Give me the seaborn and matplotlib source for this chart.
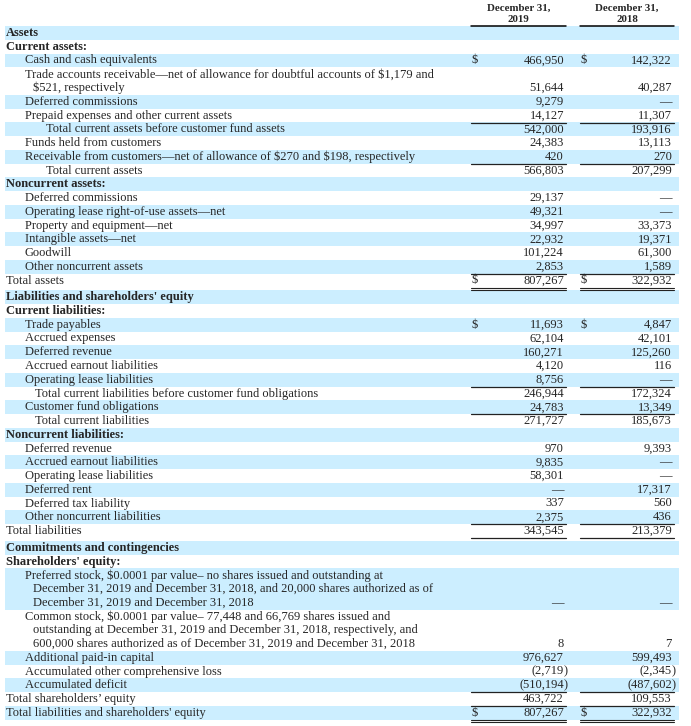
import matplotlib
matplotlib.use("Agg")
import matplotlib.pyplot as plt
from matplotlib.patches import Rectangle
import seaborn as sns

# balance sheet data (in thousands)
years = ["2019", "2018"]
header = "December 31,"

labels = [
    "Assets",
    "Current assets:",
    "Cash and cash equivalents",
    "Trade accounts receivable—net of allowance for doubtful accounts of $1,179 and\n$521, respectively",
    "Deferred commissions",
    "Prepaid expenses and other current assets",
    "Total current assets before customer fund assets",
    "Funds held from customers",
    "Receivable from customers—net of allowance of $270 and $198, respectively",
    "Total current assets",
    "Noncurrent assets:",
    "Deferred commissions",
    "Operating lease right-of-use assets—net",
    "Property and equipment—net",
    "Intangible assets—net",
    "Goodwill",
    "Other noncurrent assets",
    "Total assets",
    "Liabilities and shareholders' equity",
    "Current liabilities:",
    "Trade payables",
    "Accrued expenses",
    "Deferred revenue",
    "Accrued earnout liabilities",
    "Operating lease liabilities",
    "Total current liabilities before customer fund obligations",
    "Customer fund obligations",
    "Total current liabilities",
    "Noncurrent liabilities:",
    "Deferred revenue",
    "Accrued earnout liabilities",
    "Operating lease liabilities",
    "Deferred rent",
    "Deferred tax liability",
    "Other noncurrent liabilities",
    "Total liabilities",
    "Commitments and contingencies",
    "Shareholders' equity:",
    "Preferred stock, $0.0001 par value– no shares issued and outstanding at\n"
    "December 31, 2019 and December 31, 2018, and 20,000 shares authorized as of\n"
    "December 31, 2019 and December 31, 2018",
    "Common stock, $0.0001 par value– 77,448 and 66,769 shares issued and\n"
    "outstanding at December 31, 2019 and December 31, 2018, respectively, and\n"
    "600,000 shares authorized as of December 31, 2019 and December 31, 2018",
    "Additional paid-in capital",
    "Accumulated other comprehensive loss",
    "Accumulated deficit",
    "Total shareholders’ equity",
    "Total liabilities and shareholders' equity",
]

values_2019 = [
    None, None, 466950, 51644, 9279, 14127, 542000, 24383, 420, 566803,
    None, 29137, 49321, 34997, 22932, 101224, 2853, 807267,
    None, None, 11693, 62104, 160271, 4120, 8756, 246944, 24783, 271727,
    None, 970, 9835, 58301, 0, 337, 2375, 343545,
    None, None, 0, 8, 976627, -2719, -510194, 463722, 807267,
]

values_2018 = [
    None, None, 142322, 40287, 0, 11307, 193916, 13113, 270, 207299,
    None, 0, 0, 33373, 19371, 61300, 1589, 322932,
    None, None, 4847, 42101, 125260, 116, 0, 172324, 13349, 185673,
    None, 9393, 0, 0, 17317, 560, 436, 213379,
    None, None, 0, 7, 599493, -2345, -487602, 109553, 322932,
]

# row styling
indent = [0, 0, 1, 1, 1, 1, 3, 1, 1, 3,
          0, 1, 1, 1, 1, 1, 1, 0,
          0, 0, 1, 1, 1, 1, 1, 2, 1, 2,
          0, 1, 1, 1, 1, 1, 1, 0,
          0, 0, 1, 1, 1, 1, 1, 0, 0]
bold_rows = {0, 1, 10, 18, 19, 28, 36, 37}
dollar_rows = {2, 17, 20, 44}
single_rule_rows = {5, 8, 16, 24, 26, 34, 35, 42, 43}
double_rule_rows = {17, 44}
gap_after_rows = {17, 35}

INDENT_X = {0: 6, 1: 25, 2: 35, 3: 46}
HANG = 8.5
LH = 13.75
TOP = 33
BAND = "#cceeff"
COLS = [(471, 566), (580, 674)]

sns.set_theme(style="white")
plt.rcParams["font.family"] = ["Liberation Serif", "DejaVu Serif"]

fig = plt.figure(figsize=(6.91, 7.26), dpi=100)
ax = fig.add_axes([0, 0, 1, 1])
ax.set_xlim(0, 691)
ax.set_ylim(726, 0)
ax.axis("off")

# header
for (left, right), yr in zip(COLS, years):
    xc = (left + right) / 2
    ax.text(xc, 8.5, header, ha="center", va="center", fontsize=7.8, fontweight="bold")
    ax.text(xc, 19, yr, ha="center", va="center", fontsize=7.8, fontweight="bold")
    ax.plot([left, right], [26, 26], color="black", lw=1.1)


def fmt(v):
    if v == 0:
        return "—"
    if v < 0:
        return f"({-v:,}"
    return f"{v:,}"


y = TOP
for i, (lab, v19, v18) in enumerate(zip(labels, values_2019, values_2018)):
    lines = lab.split("\n")
    n = len(lines)
    if i % 2 == 0:
        ax.add_patch(Rectangle((5, y - LH / 2), 674, n * LH, color=BAND, lw=0, zorder=0))
    weight = "bold" if i in bold_rows else "normal"
    for k, line in enumerate(lines):
        x = INDENT_X[indent[i]] + (HANG if k else 0)
        ax.text(x, y + k * LH, line, ha="left", va="center", fontsize=9,
                fontweight=weight, parse_math=False)
    yv = y + (n - 1) * LH
    for (left, right), v in zip(COLS, [v19, v18]):
        if v is None:
            continue
        ax.text(right - 2, yv, fmt(v), ha="right", va="center", fontsize=9)
        if v < 0:
            ax.text(right - 2, yv, ")", ha="left", va="center", fontsize=9)
        if i in dollar_rows:
            ax.text(left + 1, yv, "$", ha="left", va="center", fontsize=9, parse_math=False)
        if i in single_rule_rows:
            ax.plot([left, right], [yv + 7, yv + 7], color="#222222", lw=0.9)
        if i in double_rule_rows:
            ax.plot([left, right], [yv + 7, yv + 7], color="#222222", lw=0.8)
            ax.plot([left, right], [yv + 9.5, yv + 9.5], color="#222222", lw=0.8)
    y += n * LH + (3 if i in gap_after_rows else 0)

fig.savefig("out.png", dpi=100)
